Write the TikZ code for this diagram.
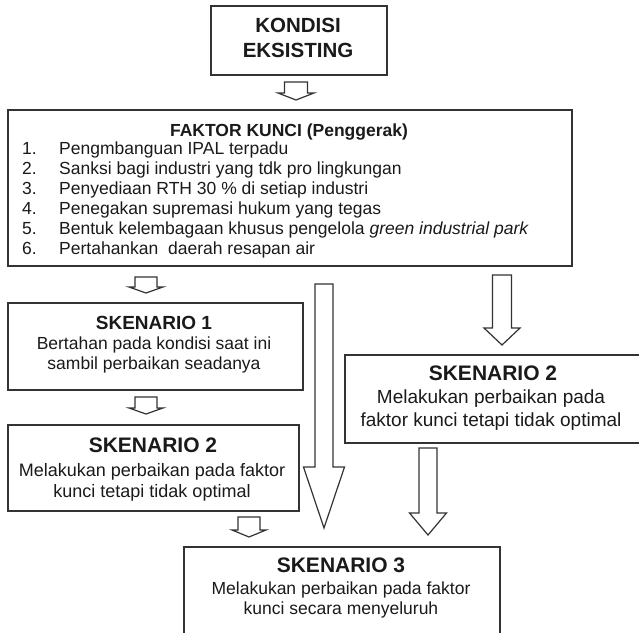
\documentclass[tikz,border=0pt]{standalone}
\usepackage{fontspec}
\setmainfont{Liberation Sans}
\definecolor{ln}{HTML}{333333}
\definecolor{tx}{HTML}{1A1A1A}
\newcommand\fatarrow[6]{%
  \draw[arrowline] (#1-#5,#2) -- (#1+#5,#2) -- (#1+#5,#3) -- (#1+#6,#3) -- (#1,#4) -- (#1-#6,#3) -- (#1-#5,#3) -- cycle;}
\begin{document}
\begin{tikzpicture}[x=1pt,y=-1pt,
  box/.style={draw=ln,line width=1.8pt,anchor=north west,inner sep=0pt},
  arrowline/.style={draw=ln,line width=1.2pt,line join=miter,fill=white},
  tb/.style={anchor=base,text=tx,inner sep=0pt,font=\bfseries\fontsize{#1}{#1}\selectfont},
  tr/.style={anchor=base,text=tx,inner sep=0pt,font=\fontsize{#1}{#1}\selectfont},
  tl/.style={anchor=base west,text=tx,inner sep=0pt,font=\fontsize{#1}{#1}\selectfont}]
\useasboundingbox (0,0) rectangle (639,632);
\fill[white] (0,0) rectangle (639,632);
\begin{scope}
\clip (0,0) rectangle (639,632);
% boxes
\node[box,minimum width=176pt,minimum height=69pt] (kond) at (210,5) {};
\node[box,minimum width=564pt,minimum height=156pt] (fak) at (7,109) {};
\node[box,minimum width=295pt,minimum height=87pt] (s1) at (7,302) {};
\node[box,minimum width=291pt,minimum height=86pt] (s2l) at (7,424) {};
\node[box,minimum width=305pt,minimum height=88pt] (s2r) at (344,354) {};
\node[box,minimum width=316pt,minimum height=92pt] (s3) at (183,546) {};
% arrows
\fatarrow{296}{82}{93}{100}{11.5}{18}
\fatarrow{146}{277}{287}{293}{11}{17}
\fatarrow{146}{397}{408}{414}{11}{17}
\fatarrow{249}{517}{530}{537}{11}{17}
\fatarrow{324}{284}{467}{528}{9}{20.5}
\fatarrow{502}{275}{328}{345}{9.5}{18}
\fatarrow{428}{448}{513}{535}{9}{18.5}
\end{scope}
% texts
\node[tb=20.5] (k1) at (298,32.5) {KONDISI};
\node[tb=20.5] (k2) at (298,57.5) {EKSISTING};
\node[tb=17.5] (ft) at (289,136) {FAKTOR KUNCI (Penggerak)};
\node[tl=17.5] (n1) at (22,154) {1.};
\node[tl=17.5] (n2) at (22,174) {2.};
\node[tl=17.5] (n3) at (22,194) {3.};
\node[tl=17.5] (n4) at (22,214) {4.};
\node[tl=17.5] (n5) at (22,234) {5.};
\node[tl=17.5] (n6) at (22,254) {6.};
\node[tl=17.5] (i1) at (59,154) {Pengmbanguan IPAL terpadu};
\node[tl=17.5] (i2) at (59,174) {Sanksi bagi industri yang tdk pro lingkungan};
\node[tl=17.5] (i3) at (59,194) {Penyediaan RTH 30 \% di setiap industri};
\node[tl=17.5] (i4) at (59,214) {Penegakan supremasi hukum yang tegas};
\node[tl=17.5] (i5) at (59,234) {Bentuk kelembagaan khusus pengelola \textit{green industrial park}};
\node[tl=17.5] (i6) at (59,254) {Pertahankan\ \ daerah resapan air};
\node[tb=19] (s1t) at (154,329) {SKENARIO 1};
\node[tr=17.5] (s1a) at (154,349) {Bertahan pada kondisi saat ini};
\node[tr=17.5] (s1b) at (154,369) {sambil perbaikan seadanya};
\node[tb=21] (s2lt) at (153,452.5) {SKENARIO 2};
\node[tr=18] (s2la) at (152,476) {Melakukan perbaikan pada faktor};
\node[tr=18] (s2lb) at (152,497) {kunci tetapi tidak optimal};
\node[tb=21] (s2rt) at (493,380.5) {SKENARIO 2};
\node[tr=19] (s2ra) at (491,403.5) {Melakukan perbaikan pada};
\node[tr=19] (s2rb) at (491,426.5) {faktor kunci tetapi tidak optimal};
\node[tb=21] (s3t) at (341,572.5) {SKENARIO 3};
\node[tr=17.5] (s3a) at (341,594) {Melakukan perbaikan pada faktor};
\node[tr=17.5] (s3b) at (341,614) {kunci secara menyeluruh};
\end{tikzpicture}
\end{document}
